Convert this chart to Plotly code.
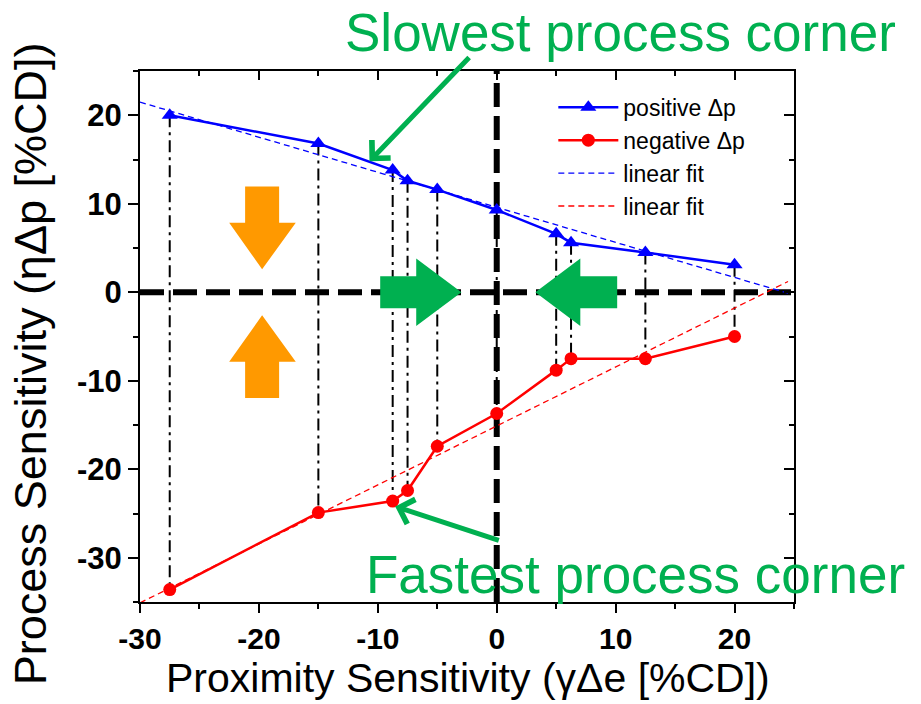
import numpy as np
import plotly.graph_objects as go

# ---- data ----
x_vals = [-27.5, -15, -8.75, -7.5, -5, 0, 5, 6.25, 12.5, 20]
pos_dp = [20.0, 16.8, 13.8, 12.6, 11.6, 9.3, 6.6, 5.6, 4.5, 3.1]
neg_dp = [-33.6, -24.9, -23.6, -22.4, -17.4, -13.7, -8.8, -7.5, -7.5, -5.0]
fit_x_range = [-30, 24.5]
x_ticks = [-30, -20, -10, 0, 10, 20]
x_tick_labels = ["-30", "-20", "-10", "0", "10", "20"]
y_ticks = [-30, -20, -10, 0, 10, 20]
y_tick_labels = ["-30", "-20", "-10", "0", "10", "20"]
x_range = [-30, 25]
y_range = [-35, 25]

FONT = "Liberation Sans, Arial, sans-serif"
BLUE = "#0000FF"
RED = "#FF0000"
GREEN = "#00B050"
ORANGE = "#FF9900"

# linear fits
bp = np.polyfit(x_vals, pos_dp, 1)
rp = np.polyfit(x_vals, neg_dp, 1)
fx = np.array(fit_x_range, dtype=float)

fig = go.Figure()

# vertical dash-dot connectors
vx, vy = [], []
for xv, p, n in zip(x_vals, pos_dp, neg_dp):
    vx += [xv, xv, None]
    vy += [p, n, None]
fig.add_trace(go.Scatter(x=vx, y=vy, mode="lines", showlegend=False,
                         line=dict(color="black", width=2, dash="12px,5px,3px,5px"),
                         hoverinfo="skip"))

fig.add_trace(go.Scatter(x=x_vals, y=pos_dp, mode="lines+markers", name="positive Δp",
                         line=dict(color=BLUE, width=2.5),
                         marker=dict(symbol="triangle-up", size=14, color=BLUE)))
fig.add_trace(go.Scatter(x=x_vals, y=neg_dp, mode="lines+markers", name="negative Δp",
                         line=dict(color=RED, width=2.5),
                         marker=dict(symbol="circle", size=13, color=RED)))
fig.add_trace(go.Scatter(x=fx, y=np.polyval(bp, fx), mode="lines", name="linear fit",
                         line=dict(color=BLUE, width=1.3, dash="6px,4px")))
fig.add_trace(go.Scatter(x=fx, y=np.polyval(rp, fx), mode="lines", name="linear fit",
                         line=dict(color=RED, width=1.3, dash="6px,4px")))

# dummy trace for mirrored (inside) ticks on top/right
fig.add_trace(go.Scatter(x=[None], y=[None], xaxis="x2", yaxis="y2", showlegend=False,
                         hoverinfo="skip"))

shapes = []
# thick zero lines
shapes.append(dict(type="line", xref="x", yref="y", x0=x_range[0], x1=x_range[1], y0=0, y1=0,
                   line=dict(color="black", width=6, dash="24px,9px"), layer="below"))
shapes.append(dict(type="line", xref="x", yref="y", x0=0, x1=0, y0=y_range[0], y1=y_range[1],
                   line=dict(color="black", width=6, dash="24px,9px"), layer="below"))

def path(pts):
    return "M " + " L ".join(f"{a},{b}" for a, b in pts) + " Z"

# orange block arrows
down = [(-21.16, 11.95), (-18.3, 11.95), (-18.3, 7.85), (-16.9, 7.85), (-19.73, 2.6),
        (-22.5, 7.85), (-21.16, 7.85)]
up = [(a, -b) for a, b in down]
for pts in (down, up):
    shapes.append(dict(type="path", xref="x", yref="y", path=path(pts),
                       fillcolor=ORANGE, line=dict(width=0), layer="above"))
# green block arrows
right = [(-9.8, 1.8), (-6.77, 1.8), (-6.77, 3.8), (-2.97, 0), (-6.77, -3.8),
         (-6.77, -1.8), (-9.8, -1.8)]
left = [(10.13, 1.8), (7.03, 1.8), (7.03, 3.8), (3.25, 0), (7.03, -3.8),
        (7.03, -1.8), (10.13, -1.8)]
for pts in (right, left):
    shapes.append(dict(type="path", xref="x", yref="y", path=path(pts),
                       fillcolor=GREEN, line=dict(width=0), layer="above"))

annotations = [
    dict(x=-10.7, y=14.8, ax=-2.2, ay=26.7, xref="x", yref="y", axref="x", ayref="y",
         text="", showarrow=True, arrowhead=4, arrowsize=1.0, arrowwidth=5,
         arrowcolor=GREEN),
    dict(x=-8.54, y=-24.2, ax=0.3, ay=-28.1, xref="x", yref="y", axref="x", ayref="y",
         text="", showarrow=True, arrowhead=4, arrowsize=1.0, arrowwidth=5,
         arrowcolor=GREEN),
    dict(x=0.734, y=1.073, xref="paper", yref="paper", text="Slowest process corner",
         showarrow=False, font=dict(family=FONT, size=53, color=GREEN),
         xanchor="center", yanchor="middle"),
    dict(x=0.757, y=0.051, xref="paper", yref="paper", text="Fastest process corner",
         showarrow=False, font=dict(family=FONT, size=53, color=GREEN),
         xanchor="center", yanchor="middle"),
    dict(x=0.5008, y=-0.143, xref="paper", yref="paper",
         text="Proximity Sensitivity (γΔe [%CD])", showarrow=False,
         font=dict(family=FONT, size=41, color="black"), xanchor="center", yanchor="middle"),
    dict(x=-0.168, y=0.448, xref="paper", yref="paper",
         text="Process Sensitivity (ηΔp [%CD])", showarrow=False, textangle=-90,
         font=dict(family=FONT, size=45, color="black"), xanchor="center", yanchor="middle"),
]

axis_common = dict(showgrid=False, zeroline=False, showline=True, linecolor="black",
                   linewidth=2, tickcolor="black", tickwidth=2)

fig.update_layout(
    width=921, height=704,
    margin=dict(l=140, r=127, t=71, b=102),
    paper_bgcolor="white", plot_bgcolor="white",
    font=dict(family=FONT, color="black"),
    shapes=shapes, annotations=annotations,
    xaxis=dict(range=x_range, tickvals=x_ticks, ticktext=x_tick_labels, ticks="outside",
               ticklen=9, tickfont=dict(family=FONT, size=30, weight="bold"),
               minor=dict(dtick=5, tick0=0, ticks="outside", ticklen=5, tickwidth=2,
                          tickcolor="black"),
               **axis_common),
    yaxis=dict(range=y_range, tickvals=y_ticks, ticktext=y_tick_labels, ticks="outside",
               ticklen=10, tickfont=dict(family=FONT, size=31, weight="bold"),
               minor=dict(dtick=5, tick0=0, ticks="outside", ticklen=5, tickwidth=2,
                          tickcolor="black"),
               **axis_common),
    xaxis2=dict(range=x_range, overlaying="x", side="top", tickvals=x_ticks,
                ticks="inside", ticklen=9, showticklabels=False,
                minor=dict(dtick=5, tick0=0, ticks="inside", ticklen=5, tickwidth=2,
                           tickcolor="black"),
                **axis_common),
    yaxis2=dict(range=y_range, overlaying="y", side="right", tickvals=y_ticks,
                ticks="inside", ticklen=10, showticklabels=False,
                minor=dict(dtick=5, tick0=0, ticks="inside", ticklen=5, tickwidth=2,
                           tickcolor="black"),
                **axis_common),
    legend=dict(x=0.632, y=0.972, xanchor="left", yanchor="top", bgcolor="rgba(0,0,0,0)",
                font=dict(family=FONT, size=23, color="black"), itemwidth=60,
                tracegroupgap=0),
    showlegend=True,
)

fig.write_html("out.html")
